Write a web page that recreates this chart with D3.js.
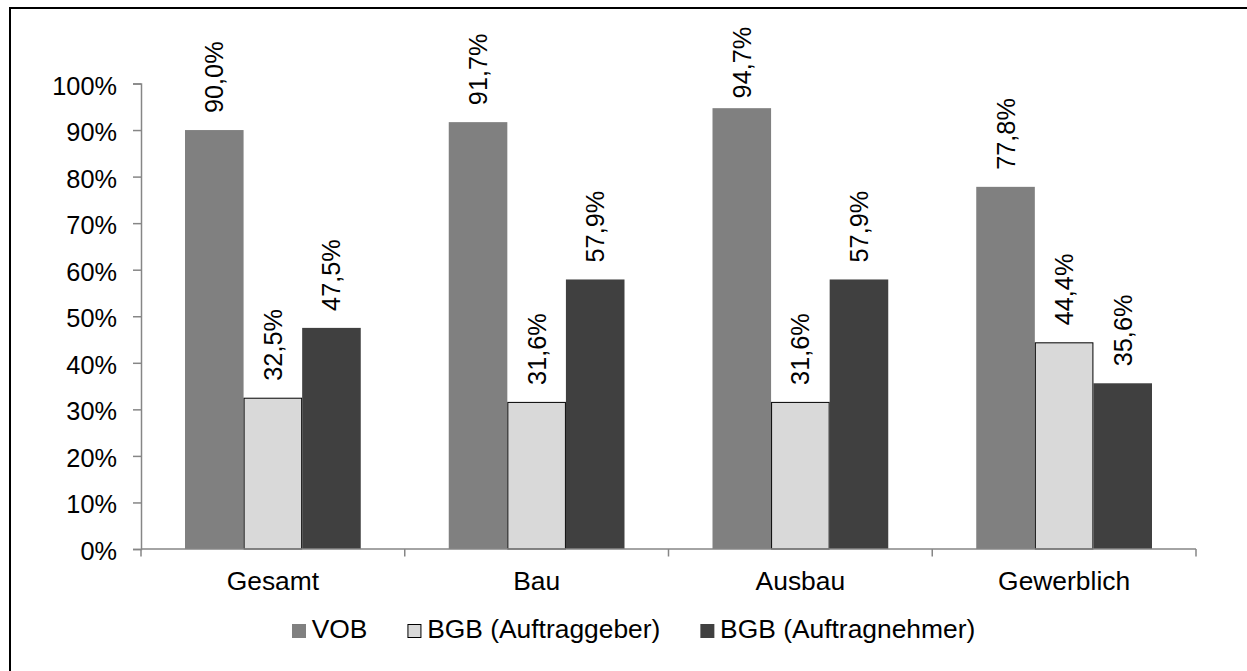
<!DOCTYPE html>
<html>
<head>
<meta charset="utf-8">
<script src="https://cdn.jsdelivr.net/npm/d3@7"></script>
<style>
  html, body { margin: 0; padding: 0; background: #fff; }
  svg { display: block; }
  text { font-family: "Liberation Sans", Arial, sans-serif; fill: #000; }
</style>
</head>
<body>
<svg id="chart" width="1247" height="671"></svg>
<script>
const categories = ["Gesamt", "Bau", "Ausbau", "Gewerblich"];
const seriesNames = ["VOB", "BGB (Auftraggeber)", "BGB (Auftragnehmer)"];
const vob = [90.0, 91.7, 94.7, 77.8];
const bgbAuftraggeber = [32.5, 31.6, 31.6, 44.4];
const bgbAuftragnehmer = [47.5, 57.9, 57.9, 35.6];
const yTicks = [0, 10, 20, 30, 40, 50, 60, 70, 80, 90, 100];

const seriesValues = [vob, bgbAuftraggeber, bgbAuftragnehmer];
const colors = ["#808080", "#d9d9d9", "#404040"];
const strokes = ["none", "#000", "none"];
const FS = 25.3;     // tick and value labels
const FS_CAT = 26.4; // category labels and legend
const FONT = "'Liberation Sans', Arial, sans-serif";

const svg = d3.select("#chart");

// outer chart border (right/bottom edges fall outside the picture)
svg.append("rect")
  .attr("x", 10).attr("y", 8)
  .attr("width", 1260).attr("height", 700)
  .attr("fill", "none").attr("stroke", "#000").attr("stroke-width", 2);

const plotL = 141, plotR = 1196, plotT = 83.5, plotB = 549;

const y = d3.scaleLinear().domain([0, 100]).range([plotB, plotT]);
const step = (plotR - plotL) / categories.length;
const x0 = d3.scaleBand().domain(categories).range([plotL, plotR])
  .paddingInner(88 / step).paddingOuter(44 / step);
const x1 = d3.scaleBand().domain(d3.range(seriesNames.length)).range([0, x0.bandwidth()]);

const axisColor = "#868686";

// Y axis
const yAxis = svg.append("g").attr("transform", `translate(${plotL},0)`)
  .call(d3.axisLeft(y).tickValues(yTicks).tickSize(8).tickFormat(d => d + "%"));
yAxis.select(".domain").attr("stroke", axisColor).attr("stroke-width", 1.5);
yAxis.selectAll(".tick line").attr("stroke", axisColor).attr("stroke-width", 1.5);
yAxis.selectAll(".tick text")
  .attr("x", -24).attr("dy", null).attr("y", 10.5)
  .attr("font-size", FS).attr("font-family", FONT)
  .attr("fill", "#000").attr("text-anchor", "end");

// bars
const groups = svg.append("g").selectAll("g")
  .data(categories).join("g")
  .attr("transform", d => `translate(${x0(d)},0)`);

groups.each(function(cat, ci) {
  const g = d3.select(this);
  seriesNames.forEach((s, si) => {
    const v = seriesValues[si][ci];
    const o = strokes[si] !== "none" ? 0.5 : 0;
    g.append("rect")
      .attr("x", x1(si) + o)
      .attr("y", y(v) + o)
      .attr("width", x1.bandwidth() - 2 * o)
      .attr("height", y(0) - y(v) - o)
      .attr("fill", colors[si])
      .attr("stroke", strokes[si])
      .attr("stroke-width", 1);
  });
});

// X axis
const xAxisG = svg.append("g");
xAxisG.append("line")
  .attr("x1", plotL).attr("x2", plotR).attr("y1", plotB).attr("y2", plotB)
  .attr("stroke", axisColor).attr("stroke-width", 1.5);
const boundaries = d3.range(categories.length + 1).map(i => plotL + i * step);
xAxisG.selectAll("line.tk").data(boundaries).join("line").attr("class", "tk")
  .attr("x1", d => d).attr("x2", d => d).attr("y1", plotB).attr("y2", plotB + 7.5)
  .attr("stroke", axisColor).attr("stroke-width", 1.5);
xAxisG.selectAll("text").data(categories).join("text")
  .attr("x", d => x0(d) + x0.bandwidth() / 2)
  .attr("y", 589.5)
  .attr("text-anchor", "middle").attr("font-size", FS_CAT)
  .text(d => d);

// value labels (rotated)
const fmt = v => d3.format(".1f")(v).replace(".", ",") + "%";
const labelG = svg.append("g");
const minTop = 26.7;
categories.forEach((cat, ci) => {
  seriesNames.forEach((s, si) => {
    const v = seriesValues[si][ci];
    const cx = x0(cat) + x1(si) + x1.bandwidth() / 2;
    const t = labelG.append("text")
      .attr("font-size", FS)
      .attr("text-anchor", "start")
      .attr("dominant-baseline", "central")
      .text(fmt(v));
    const len = t.node().getComputedTextLength();
    let bottom = y(v) - 17;
    if (bottom - len < minTop) bottom = minTop + len;
    t.attr("transform", `translate(${cx},${bottom}) rotate(-90)`);
  });
});

// legend
const legend = svg.append("g");
let lx = 292;
seriesNames.forEach((s, si) => {
  const o = strokes[si] !== "none" ? 0.5 : 0;
  legend.append("rect")
    .attr("x", lx + o).attr("y", 624 + o)
    .attr("width", 14 - 2 * o).attr("height", 14 - 2 * o)
    .attr("fill", colors[si]).attr("stroke", strokes[si]).attr("stroke-width", 1);
  const t = legend.append("text")
    .attr("x", lx + 19.7).attr("y", 637.7)
    .attr("font-size", FS_CAT).text(s);
  lx = lx + 19.7 + t.node().getComputedTextLength() + 40;
});
</script>
</body>
</html>
